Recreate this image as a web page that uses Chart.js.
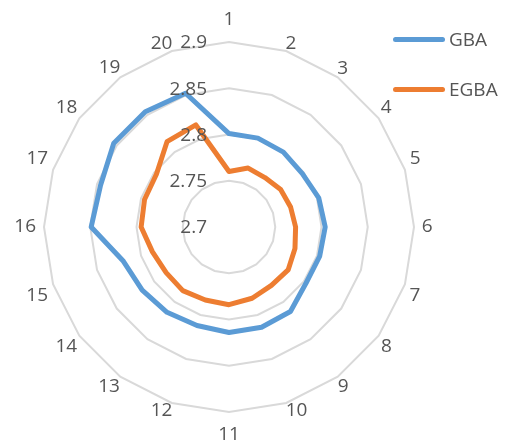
<!DOCTYPE html>
<html>
<head>
<meta charset="utf-8">
<script src="https://cdn.jsdelivr.net/npm/chart.js@4.4.1/dist/chart.umd.min.js"></script>
<style>
    body { margin: 0; background: #fff; }
    #wrap { position: relative; width: 506px; height: 444px; }
    #legend { position: absolute; left: 393px; top: 29px; font: 19px 'Open Sans', sans-serif; color: #555; }
    .legend-item { display: flex; align-items: center; height: 20px; margin-bottom: 30px; }
    .legend-key { width: 52px; height: 5px; border-radius: 3px; margin-right: 4px; }
</style>
</head>
<body>
<div id="wrap">
    <canvas id="radar" width="506" height="444"></canvas>
    <div id="legend"></div>
</div>
<script>
// categories round the radar
var categories = ['1', '2', '3', '4', '5', '6', '7', '8', '9', '10',
    '11', '12', '13', '14', '15', '16', '17', '18', '19', '20'];

// series values
var gbaValues = [2.801, 2.801, 2.800, 2.798, 2.802, 2.804, 2.803, 2.803, 2.813, 2.814,
    2.814, 2.812, 2.814, 2.816, 2.820, 2.849, 2.846, 2.854, 2.854, 2.852];
var egbaValues = [2.760, 2.767, 2.766, 2.769, 2.770, 2.772, 2.775, 2.779, 2.778, 2.781,
    2.784, 2.783, 2.785, 2.784, 2.787, 2.795, 2.796, 2.797, 2.814, 2.816];

// value axis
var tickLabels = ['2.7', '2.75', '2.8', '2.85', '2.9'];
var axisMin = 2.7;
var axisMax = 2.9;
var axisStep = 0.05;

// nudges so the point labels sit where excel put them
var labelPadding = [13, -1.8, -0.7, 2.5, 5, 7.8, 4.9, 2.8, 0, -1.7,
    13, -1.8, 0.6, 2.7, 5.3, 7.9, 5.2, 2.4, -0.3, -1.9];

var textColor = '#555555';

// excel draws the value labels left of the first spoke, 2.7 included
var tickLabelPlugin = {
    id: 'tickLabels',
    afterDatasetsDraw: function (chart) {
        var scale = chart.scales.r;
        var ctx = chart.ctx;
        ctx.save();
        ctx.font = "19px 'Open Sans'";
        ctx.fillStyle = textColor;
        ctx.textAlign = 'right';
        ctx.textBaseline = 'middle';
        scale.ticks.forEach(function (tick, i) {
            var dist = scale.getDistanceFromCenterForValue(tick.value);
            ctx.fillText(tickLabels[i], scale.xCenter - 22, scale.yCenter - dist + 1);
        });
        ctx.restore();
    }
};

var ctx = document.getElementById('radar');
var radarChart = new Chart(ctx, {
    type: 'radar',
    data: {
        labels: categories,
        datasets: [{
            label: 'GBA',
            data: gbaValues,
            borderColor: '#5B9BD5',
            backgroundColor: '#5B9BD5',
            borderWidth: 5,
            borderJoinStyle: 'round',
            fill: false,
            pointRadius: 0,
            pointHoverRadius: 0
        }, {
            label: 'EGBA',
            data: egbaValues,
            borderColor: '#ED7D31',
            backgroundColor: '#ED7D31',
            borderWidth: 5,
            borderJoinStyle: 'round',
            fill: false,
            pointRadius: 0,
            pointHoverRadius: 0
        }]
    },
    options: {
        responsive: false,
        animation: false,
        layout: {
            // the legend floats over the top right corner, so keep it out of the layout
            padding: { left: 0, right: 58, top: 10, bottom: 0 }
        },
        plugins: {
            legend: { display: false },
            tooltip: { enabled: false }
        },
        scales: {
            r: {
                min: axisMin,
                max: axisMax,
                angleLines: { display: false },
                grid: { color: '#d9d9d9', lineWidth: 2 },
                ticks: { display: false, stepSize: axisStep },
                pointLabels: {
                    color: textColor,
                    font: { family: 'Open Sans', size: 19, lineHeight: 1 },
                    padding: function (c) { return labelPadding[c.index]; }
                }
            }
        }
    },
    plugins: [tickLabelPlugin]
});

// create legend
var legend = document.getElementById('legend');
radarChart.data.datasets.forEach(function (ds) {
    var item = document.createElement('div');
    item.className = 'legend-item';
    var key = document.createElement('span');
    key.className = 'legend-key';
    key.style.backgroundColor = ds.borderColor;
    var value = document.createElement('span');
    value.textContent = ds.label;
    item.appendChild(key);
    item.appendChild(value);
    legend.appendChild(item);
});
</script>
</body>
</html>
